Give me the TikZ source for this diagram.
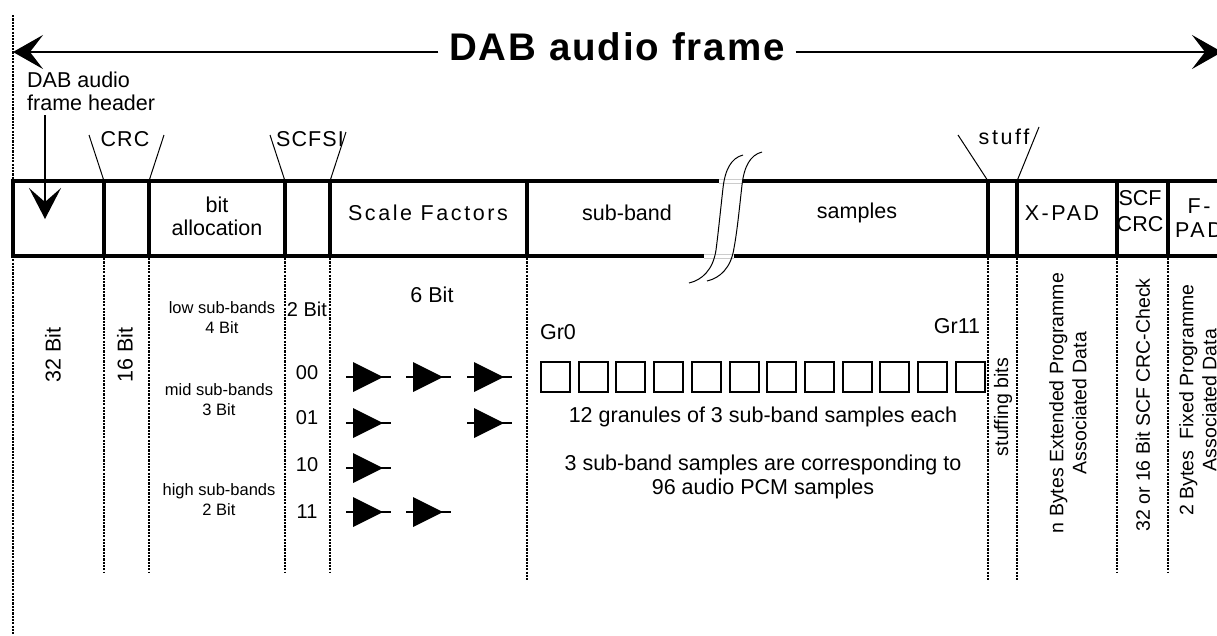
\documentclass[tikz,border=0pt]{standalone}
\usepackage{fontspec}
\setmainfont{Liberation Sans}
\newfontfamily\spcA[LetterSpace=12]{Liberation Sans}
\newfontfamily\spcB[LetterSpace=5]{Liberation Sans}
\newfontfamily\ttlf[LetterSpace=5]{Liberation Sans}
\usetikzlibrary{arrows.meta}
\tikzset{
  lbl/.style={inner sep=0pt, align=center, font=\fontsize{21.5}{23}\selectfont},
  lblA/.style={inner sep=0pt, align=center, font=\fontsize{21.5}{24}\selectfont\spcA},
  lblB/.style={inner sep=0pt, align=center, font=\fontsize{21.5}{24}\selectfont\spcB},
  sml/.style={inner sep=0pt, align=center, font=\fontsize{16.5}{20}\selectfont},
  dig/.style={inner sep=0pt, font=\fontsize{20}{24}\selectfont},
  vlbl/.style={inner sep=0pt, align=center, rotate=90, font=\fontsize{19.5}{23}\selectfont},
  barline/.style={line width=4.8pt},
  dotl/.style={line width=1.3pt, dash pattern=on 2.2pt off 1.1pt},
  leader/.style={line width=1pt},
  bigarr/.style={line width=2.4pt, -{Stealth[length=30pt,width=34pt,inset=13pt]}},
  downarr/.style={line width=2.2pt, -{Stealth[length=31pt,width=32pt,inset=14pt]}},
  gran/.style={draw, line width=2pt, minimum width=29pt, minimum height=30pt, inner sep=0pt},
  buf/.pic={\draw[line width=1.6pt] (0,0) -- (45,0); \fill (7,-15) -- (37,0) -- (7,15) -- cycle;}
}
\begin{document}
\begin{tikzpicture}[x=1pt,y=-1pt]
\useasboundingbox (0,0) rectangle (1217,635);
\clip (0,0) rectangle (1217,635);

% left dotted boundary
\coordinate (lt) at (13,15);
\coordinate (lb) at (13,635);
\draw[dotl] (lt) -- (lb);

% title and frame arrow
\node[inner sep=0pt, outer xsep=11pt, anchor=base, font=\fontsize{38.5}{44}\selectfont\ttlf\bfseries] (title) at (617,60) {DAB audio frame};
\coordinate (ltip) at (13,52);
\coordinate (rtip) at (1222,52);
\draw[bigarr] (title.west |- ltip) -- (ltip);
\draw[bigarr] (title.east |- rtip) -- (rtip);

% header label and arrow
\node[lbl, align=left, anchor=north west, font=\fontsize{21.5}{22.5}\selectfont] (hdr) at (27,72) {DAB audio\\frame header};
\coordinate (ha) at (45,115);
\coordinate (hb) at (45,219);
\draw[downarr] (ha) -- (hb);

% frame bar
\draw[barline] (13,181) rectangle (1240,256);
\foreach \x/\e in {104/572,149/572,285/572,330/572,527/580,988/580,1017/580,1117/572,1168/572}{
  \coordinate (t\x) at (\x,181);
  \draw[barline] (\x,181) -- (\x,256);
  \draw[dotl] (\x,258) -- (\x,\e);
}

% break symbol
\fill[white] (719,177) rectangle (743,185);
\draw[gray!40, line width=0.6pt] (719,178.8) -- (743,178.8) (719,183.2) -- (743,183.2);
\fill[white] (704,252) rectangle (734,260);
\draw[gray!40, line width=0.6pt] (704,253.8) -- (734,253.8) (704,258.2) -- (734,258.2);
\draw[line width=1pt] (743,155) .. controls (731,158) and (725,170) .. (723,188) .. controls (720,215) and (718,235) .. (716,250) .. controls (713,270) and (702,280) .. (689,283);
\draw[line width=1pt] (762,152) .. controls (750,155) and (744,167) .. (742,185) .. controls (739,212) and (737,232) .. (734,248) .. controls (731,268) and (720,278) .. (707,281);

% leader labels
\node[lblB] (crc) at (125,139) {CRC};
\coordinate (crcL) at (89,135);
\coordinate (crcR) at (164,135);
\draw[leader] (crcL) -- (t104);
\draw[leader] (crcR) -- (t149);
\node[lblB] (scfsi) at (310,139) {SCFSI};
\coordinate (scL) at (270,135);
\coordinate (scR) at (346,132);
\draw[leader] (scL) -- (t285);
\draw[leader] (scR) -- (t330);
\node[lblA] (stuff) at (1004,137) {stuff};
\coordinate (stL) at (958,135);
\coordinate (stR) at (1039,127);
\draw[leader] (stL) -- (t988);
\draw[leader] (stR) -- (t1017);

% cell labels
\node[lbl] (ba) at (217,216) {bit\\allocation};
\node[lblA] (sf) at (428,213) {Scale Factors};
\node[lbl] (sb) at (627,213) {sub-band};
\node[lbl] (sm) at (857,213) {samples};
\node[lblA] (xp) at (1062,213) {X-PAD};
\node[lbl, font=\fontsize{21.5}{26}\selectfont] (scfcrc) at (1140,211) {SCF\\CRC};
\node[lblA] (fpad) at (1199,218) {F-\\PAD};

% body texts
\node[lbl, rotate=90] (b32) at (53,355) {32 Bit};
\node[lbl, rotate=90] (b16) at (125,355) {16 Bit};
\node[sml] (low) at (222,318) {low sub-bands\\4 Bit};
\node[sml] (mid) at (219,400) {mid sub-bands\\3 Bit};
\node[sml] (high) at (219,500) {high sub-bands\\2 Bit};
\node[dig] (twobit) at (307,309) {2 Bit};
\node[dig] (c00) at (307,373) {00};
\node[dig] (c01) at (307,418) {01};
\node[dig] (c10) at (307,465) {10};
\node[dig] (c11) at (307,512) {11};
\node[lbl] (six) at (432,295) {6 Bit};

% scale factor symbols
\pic at (346,377) {buf};
\pic at (406,377) {buf};
\pic at (467,377) {buf};
\pic at (346,423) {buf};
\pic at (467,423) {buf};
\pic at (346,468) {buf};
\pic at (346,512) {buf};
\pic at (406,512) {buf};

% granules
\foreach \i in {0,...,11}{
  \node[gran] (g\i) at ({555.5+\i*37.7},377) {};
}
\node[lbl] (gr0) at (558,332) {Gr0};
\node[lbl] (gr11) at (957,326) {Gr11};
\node[lbl] (gtxt) at (763,417) {12 granules of 3 sub-band samples each};
\node[lbl, font=\fontsize{21.5}{24}\selectfont] (ctxt) at (763,477) {3 sub-band samples are corresponding to\\96 audio PCM samples};

% vertical texts
\node[vlbl] (stb) at (1003,407) {stuffing bits};
\node[vlbl] (xpd) at (1068,403) {n Bytes Extended Programme\\Associated Data};
\node[vlbl] (scc) at (1143,405) {32 or 16 Bit SCF CRC-Check};
\node[vlbl] (fpd) at (1198,400) {2 Bytes\ \ Fixed Programme\\Associated Data};
\end{tikzpicture}
\end{document}
